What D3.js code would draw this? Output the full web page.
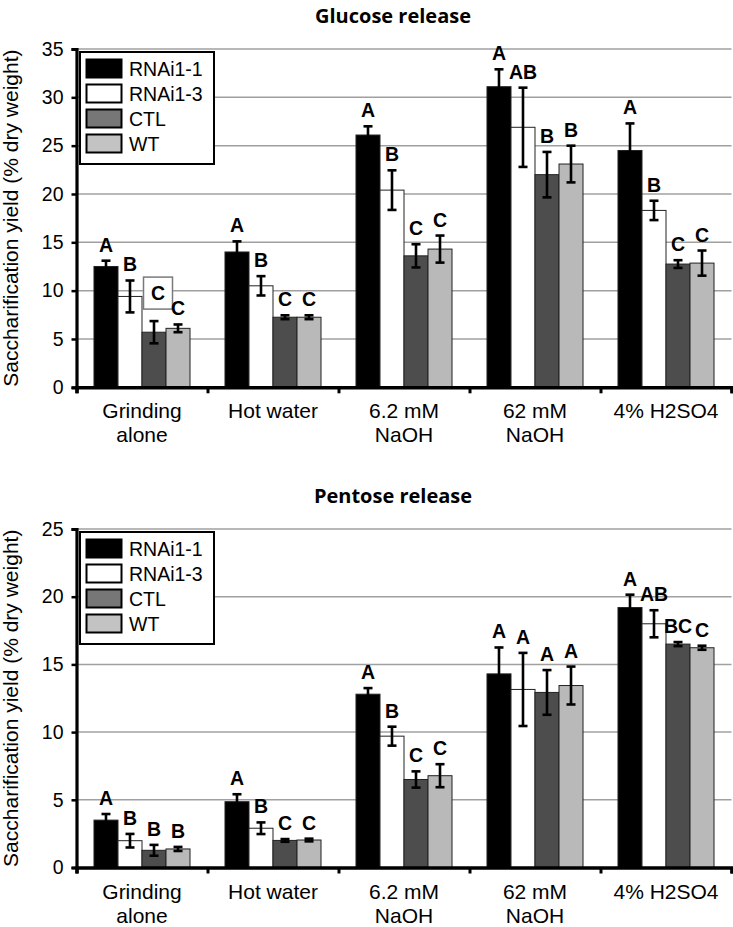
<!DOCTYPE html>
<html><head><meta charset="utf-8">
<script src="https://cdn.jsdelivr.net/npm/d3@7/dist/d3.min.js"></script>
<style>body{margin:0;background:#fff}svg{display:block}</style>
</head><body><svg id="chart" width="733" height="927"></svg>
<script>
// ---------- data ----------
const categories = ["Grinding alone", "Hot water", "6.2 mM NaOH", "62 mM NaOH", "4% H2SO4"];
const categoryLines = [["Grinding", "alone"], ["Hot water"], ["6.2 mM", "NaOH"], ["62 mM", "NaOH"], ["4% H2SO4"]];
const seriesNames = ["RNAi1-1", "RNAi1-3", "CTL", "WT"];

// Glucose release (% dry weight)
const glucoseRNAi1_1 = [12.5, 14.0, 26.1, 31.1, 24.5];
const glucoseRNAi1_3 = [9.4, 10.5, 20.4, 26.9, 18.3];
const glucoseCTL = [5.7, 7.25, 13.6, 22.0, 12.75];
const glucoseWT = [6.1, 7.25, 14.3, 23.1, 12.85];
const glucoseRNAi1_1Err = [0.6, 1.1, 0.9, 1.8, 2.8];
const glucoseRNAi1_3Err = [1.65, 1.0, 2.05, 4.1, 1.0];
const glucoseCTLErr = [1.15, 0.2, 1.2, 2.35, 0.4];
const glucoseWTErr = [0.4, 0.2, 1.4, 1.9, 1.3];
const glucoseLetters = [
  ["A", "B", "C", "C"],
  ["A", "B", "C", "C"],
  ["A", "B", "C", "C"],
  ["A", "AB", "B", "B"],
  ["A", "B", "C", "C"]
];
const glucoseBoxedLabel = { category: "Grinding alone", series: "CTL" };
const glucoseTicks = [0, 5, 10, 15, 20, 25, 30, 35];

// Pentose release (% dry weight)
const pentoseRNAi1_1 = [3.5, 4.86, 12.8, 14.3, 19.2];
const pentoseRNAi1_3 = [1.98, 2.9, 9.7, 13.15, 18.0];
const pentoseCTL = [1.27, 2.0, 6.5, 12.93, 16.5];
const pentoseWT = [1.37, 2.03, 6.78, 13.44, 16.23];
const pentoseRNAi1_1Err = [0.45, 0.55, 0.45, 1.95, 0.95];
const pentoseRNAi1_3Err = [0.5, 0.43, 0.7, 2.7, 1.0];
const pentoseCTLErr = [0.4, 0.1, 0.6, 1.65, 0.15];
const pentoseWTErr = [0.15, 0.1, 0.85, 1.4, 0.15];
const pentoseLetters = [
  ["A", "B", "B", "B"],
  ["A", "B", "C", "C"],
  ["A", "B", "C", "C"],
  ["A", "A", "A", "A"],
  ["A", "AB", "BC", "C"]
];
const pentoseTicks = [0, 5, 10, 15, 20, 25];

// ---------- styles ----------
const barFill = ["#000000", "#ffffff", "#4d4d4d", "#b9b9b9"];
const legendFill = ["#000000", "#ffffff", "#777777", "#c3c3c3"];
const FONT = "'Liberation Sans', Arial, Helvetica, sans-serif";

const svg = d3.select("#chart");

function drawPanel(p) {
  const x0 = 76.5, x1 = 731.5;
  const y = d3.scaleLinear().domain([0, p.max]).range([p.bottom, p.top]);
  const xg = d3.scaleBand().domain(categories).range([x0, x1]).paddingInner(0.267).paddingOuter(0.1335);
  const xs = d3.scaleBand().domain(seriesNames).range([0, xg.bandwidth()]);
  const g = svg.append("g");

  // title
  g.append("text").attr("x", 393).attr("y", p.titleY).attr("text-anchor", "middle")
    .style("font-family", "'Open Sans', sans-serif").style("font-weight", "700").style("font-size", "20px")
    .text(p.title);

  // gridlines
  g.append("g").selectAll("line").data(p.ticks.filter(d => d > 0)).join("line")
    .attr("x1", x0).attr("x2", x1).attr("y1", d => y(d)).attr("y2", d => y(d))
    .attr("stroke", "#a0a0a0").attr("stroke-width", 1.5);

  // bars
  const groups = g.append("g").selectAll("g").data(categories).join("g")
    .attr("transform", d => `translate(${xg(d)},0)`);
  groups.each(function (cat, ci) {
    const gg = d3.select(this);
    seriesNames.forEach((s, si) => {
      const v = p.values[si][ci];
      const bx = xs(s), bw = xs.bandwidth();
      gg.append("rect").attr("x", bx).attr("y", y(v)).attr("width", bw).attr("height", y(0) - y(v))
        .attr("fill", barFill[si]).attr("stroke", "#222").attr("stroke-width", 1);
    });
    seriesNames.forEach((s, si) => {
      const v = p.values[si][ci], e = p.errs[si][ci];
      const cx = xs(s) + xs.bandwidth() / 2;
      const eg = gg.append("g").attr("stroke", "#000").attr("stroke-width", 2.6);
      eg.append("line").attr("x1", cx).attr("x2", cx).attr("y1", y(v + e)).attr("y2", y(Math.max(0, v - e)));
      eg.append("line").attr("x1", cx - 4.5).attr("x2", cx + 4.5).attr("y1", y(v + e)).attr("y2", y(v + e));
      eg.append("line").attr("x1", cx - 4.5).attr("x2", cx + 4.5).attr("y1", y(v - e)).attr("y2", y(v - e));
      // letter
      const boxed = p.boxed && p.boxed.category === cat && p.boxed.series === s;
      let ly = y(v + e) - 9;
      let lx = cx;
      if (boxed) {
        ly = y(v + e) - 21;
        lx = cx + 4;
        gg.append("rect").attr("x", lx - 14.5).attr("y", ly - 23).attr("width", 29).attr("height", 32)
          .attr("fill", "#fff").attr("stroke", "#7a7a7a").attr("stroke-width", 1.5);
      }
      gg.append("text").attr("x", lx).attr("y", ly).attr("text-anchor", "middle")
        .style("font-family", FONT).style("font-weight", "700").style("font-size", "19.5px")
        .text(p.letters[ci][si]);
    });
  });

  // y axis
  const ya = g.append("g").attr("transform", `translate(${x0},0)`)
    .call(d3.axisLeft(y).tickValues(p.ticks).tickSize(5).tickPadding(8).tickFormat(d3.format("d")));
  ya.select(".domain").attr("stroke", "#000").attr("stroke-width", 3.2);
  ya.selectAll(".tick line").attr("stroke", "#000").attr("stroke-width", 2.5);
  ya.selectAll(".tick text").style("font-family", FONT).style("font-size", "19.5px").attr("fill", "#000");

  // x axis (boundary ticks)
  const xb = d3.scaleLinear().domain([0, categories.length]).range([x0, x1]);
  const xa = g.append("g").attr("transform", `translate(0,${p.bottom})`)
    .call(d3.axisBottom(xb).tickValues(d3.range(categories.length + 1)).tickSize(6).tickFormat(""));
  xa.select(".domain").attr("stroke", "#000").attr("stroke-width", 3.5);
  xa.selectAll(".tick line").attr("stroke", "#000").attr("stroke-width", 3);

  // category labels
  const cl = g.append("g").selectAll("text").data(categories).join("text")
    .attr("x", d => xg(d) + xg.bandwidth() / 2).attr("y", p.bottom + 31)
    .attr("text-anchor", "middle").style("font-family", FONT).style("font-size", "21px").attr("fill", "#000");
  cl.each(function (d, i) {
    d3.select(this).selectAll("tspan").data(categoryLines[i]).join("tspan")
      .attr("x", xg(d) + xg.bandwidth() / 2).attr("dy", (t, j) => j === 0 ? 0 : 24).text(t => t);
  });

  // y title
  g.append("text").attr("transform", `translate(18,${(p.top + p.bottom) / 2}) rotate(-90)`)
    .attr("text-anchor", "middle").style("font-family", FONT).style("font-size", "21px")
    .text("Saccharification yield (% dry weight)");

  // legend
  const lg = g.append("g").attr("transform", `translate(80,${p.top + 3})`);
  lg.append("rect").attr("width", 134).attr("height", 112).attr("fill", "#fff").attr("stroke", "#000").attr("stroke-width", 2);
  seriesNames.forEach((s, i) => {
    lg.append("rect").attr("x", 6.5).attr("y", 7.5 + i * 25).attr("width", 35).attr("height", 18)
      .attr("fill", legendFill[i]).attr("stroke", "#000").attr("stroke-width", 2);
    lg.append("text").attr("x", 49).attr("y", 23.5 + i * 25)
      .style("font-family", FONT).style("font-size", "19.5px").text(s);
  });
}

drawPanel({
  title: "Glucose release", titleY: 23, top: 49, bottom: 387.3, max: 35, ticks: glucoseTicks,
  values: [glucoseRNAi1_1, glucoseRNAi1_3, glucoseCTL, glucoseWT],
  errs: [glucoseRNAi1_1Err, glucoseRNAi1_3Err, glucoseCTLErr, glucoseWTErr],
  letters: glucoseLetters, boxed: glucoseBoxedLabel
});
drawPanel({
  title: "Pentose release", titleY: 503, top: 529, bottom: 867.5, max: 25, ticks: pentoseTicks,
  values: [pentoseRNAi1_1, pentoseRNAi1_3, pentoseCTL, pentoseWT],
  errs: [pentoseRNAi1_1Err, pentoseRNAi1_3Err, pentoseCTLErr, pentoseWTErr],
  letters: pentoseLetters, boxed: null
});
</script></body></html>
